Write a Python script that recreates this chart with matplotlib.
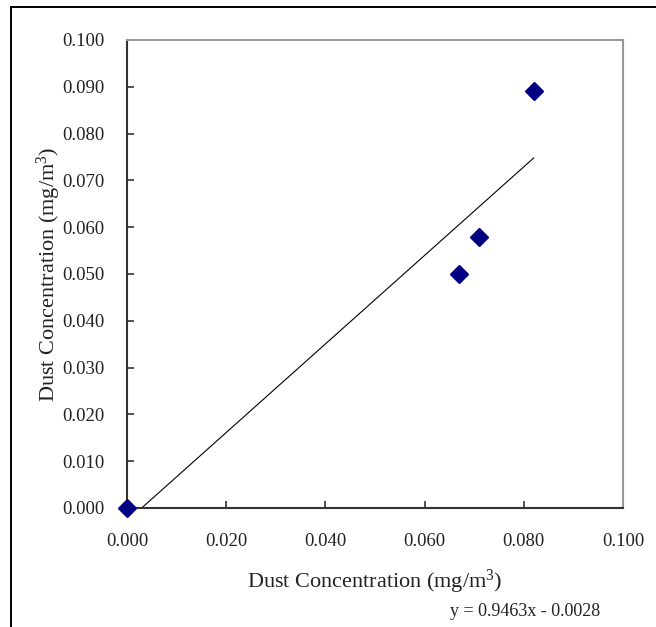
import numpy as np
import matplotlib
matplotlib.use('Agg')
import matplotlib.pyplot as plt
from matplotlib.lines import Line2D

plt.rcParams['font.family'] = ['Liberation Serif', 'DejaVu Serif']
plt.rcParams['mathtext.fontset'] = 'custom'
plt.rcParams['mathtext.rm'] = 'Liberation Serif'
plt.rcParams['mathtext.it'] = 'Liberation Serif:italic'

# measured vs reference dust concentration
x_vals = [0.000, 0.067, 0.071, 0.082]
y_vals = [0.000, 0.050, 0.058, 0.089]

slope = 0.9463
intercept = -0.0028

ticks = [0.000, 0.010, 0.020, 0.030, 0.040, 0.050, 0.060, 0.070, 0.080, 0.090, 0.100]
xticks = [0.000, 0.020, 0.040, 0.060, 0.080, 0.100]

fig = plt.figure(figsize=(6.56, 6.27), dpi=100)
ax = fig.add_axes([127/656, 119/627, 496/656, 468/627])

# outer chart frame (only top and left edges are inside the picture)
fig.add_artist(Line2D([11/656, 1.0], [1 - 7/627, 1 - 7/627], transform=fig.transFigure,
                      color='black', lw=1.4))
fig.add_artist(Line2D([11/656, 11/656], [0.0, 1 - 7/627], transform=fig.transFigure,
                      color='black', lw=1.4))

# trendline over the data range, clipped at y = 0
xs = np.linspace(min(x_vals), max(x_vals), 200)
ys = slope * xs + intercept
ax.plot(xs, ys, color='black', lw=0.8)

ax.plot(x_vals, y_vals, linestyle='none', marker='D', markersize=9.5,
        color='#000080', clip_on=False, zorder=5)

ax.set_xlim(0, 0.1)
ax.set_ylim(0, 0.1)
ax.set_xticks(xticks)
ax.set_yticks(ticks)
ax.set_xticklabels(['%.3f' % t for t in xticks])
ax.set_yticklabels(['%.3f' % t for t in ticks])
ax.tick_params(direction='in', length=5, width=1.2, colors='#333333',
               labelsize=13.5, labelcolor='#222222')
ax.tick_params(axis='y', pad=16)
ax.tick_params(axis='x', pad=18)

for s in ['left', 'bottom']:
    ax.spines[s].set_color('#333333')
    ax.spines[s].set_linewidth(1.5)
for s in ['top', 'right']:
    ax.spines[s].set_color('#999999')
    ax.spines[s].set_linewidth(1.5)

ax.set_xlabel('Dust Concentration (mg/m$^{3}$)', fontsize=16, color='#222222', labelpad=13)
ax.set_ylabel('Dust Concentration (mg/m$^{3}$)', fontsize=16, color='#222222', labelpad=0)

fig.text(525/656, 1 - 612/627, 'y = 0.9463x - 0.0028', fontsize=13, color='#222222',
         ha='center', va='center')

fig.savefig('out.png', dpi=100)
